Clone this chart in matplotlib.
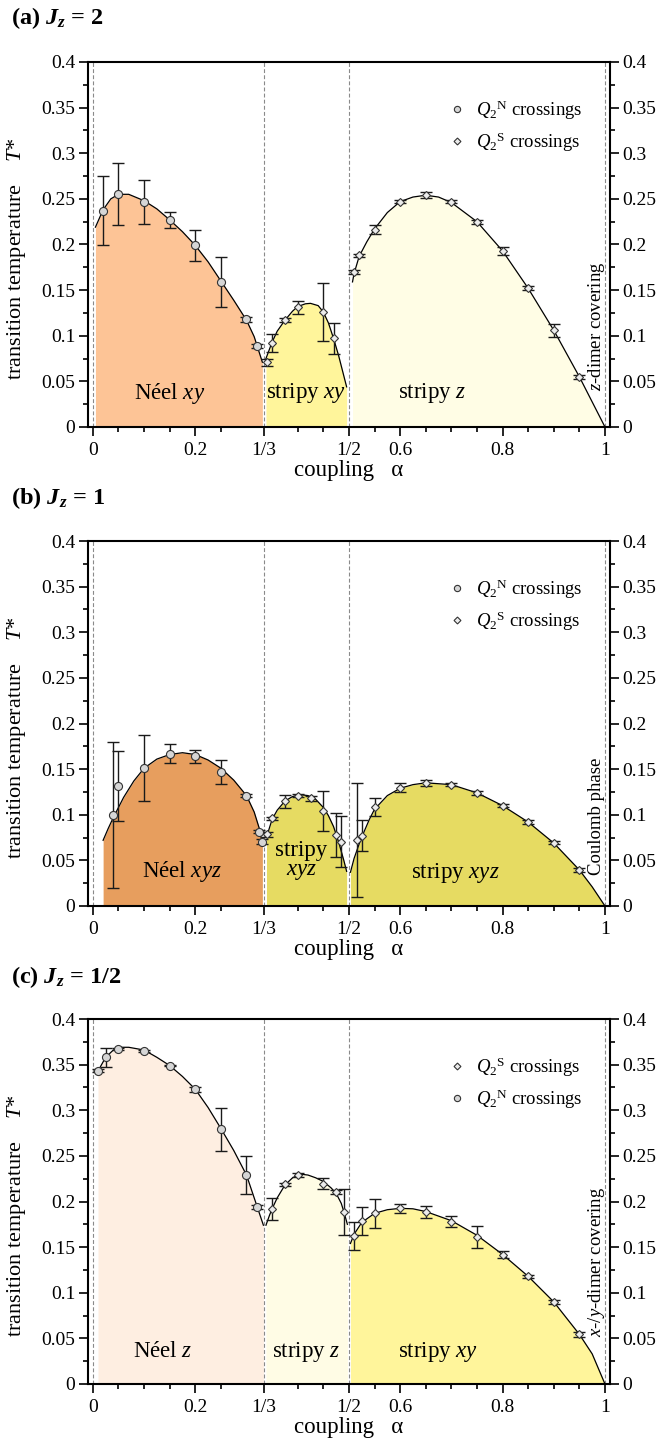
import matplotlib
matplotlib.use('Agg')
import matplotlib.pyplot as plt
from matplotlib.lines import Line2D

plt.rcParams['font.family'] = ['Liberation Serif', 'DejaVu Serif']
plt.rcParams['mathtext.fontset'] = 'custom'
plt.rcParams['mathtext.rm'] = 'Liberation Serif'
plt.rcParams['mathtext.it'] = 'Liberation Serif:italic'
plt.rcParams['mathtext.bf'] = 'Liberation Serif:bold'
plt.rcParams['mathtext.bfit'] = 'Liberation Serif:italic:bold'

# ---------------- panel (a) Jz = 2 ----------------
a_n_alpha = [0.02, 0.05, 0.10, 0.15, 0.20, 0.25, 0.30, 0.32]
a_n_T = [0.237, 0.255, 0.247, 0.227, 0.199, 0.159, 0.118, 0.089]
a_n_err = [0.038, 0.034, 0.024, 0.009, 0.017, 0.027, 0.003, 0.002]

a_s_alpha = [0.34, 0.35, 0.375, 0.40, 0.45, 0.47,
             0.51, 0.52, 0.55, 0.60, 0.65, 0.70, 0.75, 0.80, 0.85, 0.90, 0.95]
a_s_T = [0.071, 0.092, 0.117, 0.131, 0.126, 0.097,
         0.170, 0.188, 0.216, 0.247, 0.254, 0.247, 0.225, 0.193, 0.152, 0.106, 0.055]
a_s_err = [0.004, 0.010, 0.002, 0.007, 0.032, 0.017,
           0.002, 0.002, 0.005, 0.002, 0.003, 0.002, 0.002, 0.004, 0.002, 0.007, 0.002]

a_neel_x = [0.005, 0.02, 0.035, 0.05, 0.07, 0.10, 0.125, 0.15, 0.175, 0.20,
            0.225, 0.25, 0.275, 0.30, 0.315, 0.331]
a_neel_y = [0.219, 0.238, 0.250, 0.255, 0.255, 0.248, 0.239, 0.227, 0.214, 0.199,
            0.181, 0.160, 0.139, 0.117, 0.099, 0.071]
a_stxy_x = [0.338, 0.35, 0.36, 0.375, 0.39, 0.40, 0.415, 0.425, 0.44, 0.45,
            0.46, 0.47, 0.48, 0.4955]
a_stxy_y = [0.075, 0.093, 0.105, 0.117, 0.127, 0.132, 0.135, 0.1355, 0.133, 0.126,
            0.114, 0.097, 0.078, 0.044]
a_stz_x = [0.507, 0.51, 0.52, 0.535, 0.55, 0.575, 0.60, 0.625, 0.65, 0.675,
           0.70, 0.75, 0.80, 0.85, 0.90, 0.95, 1.0]
a_stz_y = [0.159, 0.168, 0.187, 0.203, 0.217, 0.235, 0.247, 0.252, 0.254, 0.252,
           0.246, 0.225, 0.193, 0.152, 0.106, 0.055, 0.0]

# ---------------- panel (b) Jz = 1 ----------------
b_n_alpha = [0.04, 0.05, 0.10, 0.15, 0.20, 0.25, 0.30, 0.325, 0.33]
b_n_T = [0.100, 0.1315, 0.1516, 0.167, 0.164, 0.147, 0.121, 0.0815, 0.0705]
b_n_err = [0.080, 0.038, 0.036, 0.0105, 0.0075, 0.013, 0.002, 0.002, 0.003]

b_s_alpha = [0.34, 0.35, 0.375, 0.40, 0.425, 0.45, 0.475, 0.485,
             0.515, 0.525, 0.55, 0.60, 0.65, 0.70, 0.75, 0.80, 0.85, 0.90, 0.95]
b_s_T = [0.0784, 0.096, 0.1147, 0.121, 0.118, 0.1045, 0.0778, 0.0705,
         0.0723, 0.077, 0.1085, 0.1297, 0.135, 0.133, 0.124, 0.110, 0.092, 0.0694, 0.0395]
b_s_err = [0.003, 0.002, 0.007, 0.002, 0.003, 0.022, 0.024, 0.028,
           0.062, 0.017, 0.010, 0.005, 0.003, 0.002, 0.002, 0.002, 0.002, 0.002, 0.002]

b_neel_x = [0.02, 0.03, 0.04, 0.06, 0.08, 0.10, 0.125, 0.15, 0.175, 0.20,
            0.225, 0.25, 0.275, 0.30, 0.315, 0.325, 0.331]
b_neel_y = [0.072, 0.085, 0.097, 0.119, 0.137, 0.151, 0.161, 0.166, 0.168, 0.166,
            0.160, 0.151, 0.138, 0.121, 0.103, 0.085, 0.068]
b_stxyz1_x = [0.339, 0.345, 0.35, 0.36, 0.375, 0.39, 0.405, 0.42, 0.435, 0.45,
              0.46, 0.47, 0.48, 0.49, 0.4955]
b_stxyz1_y = [0.075, 0.086, 0.095, 0.105, 0.115, 0.120, 0.122, 0.121, 0.117, 0.108,
              0.099, 0.087, 0.070, 0.050, 0.038]
b_stxyz2_x = [0.503, 0.51, 0.52, 0.53, 0.54, 0.55, 0.575, 0.60, 0.625, 0.65,
              0.70, 0.75, 0.80, 0.85, 0.90, 0.95, 0.975, 1.0]
b_stxyz2_y = [0.037, 0.052, 0.068, 0.082, 0.095, 0.106, 0.121, 0.129, 0.133, 0.135,
              0.133, 0.124, 0.110, 0.092, 0.069, 0.0395, 0.021, 0.0]

# ---------------- panel (c) Jz = 1/2 ----------------
c_n_alpha = [0.01, 0.025, 0.05, 0.10, 0.15, 0.20, 0.25, 0.30, 0.32]
c_n_T = [0.3434, 0.358, 0.3675, 0.365, 0.349, 0.323, 0.279, 0.229, 0.1943]
c_n_err = [0.002, 0.0105, 0.001, 0.001, 0.001, 0.003, 0.024, 0.021, 0.002]

c_s_alpha = [0.35, 0.375, 0.40, 0.45, 0.475, 0.49,
             0.51, 0.525, 0.55, 0.60, 0.65, 0.70, 0.75, 0.80, 0.85, 0.90, 0.95]
c_s_T = [0.1914, 0.2188, 0.229, 0.2195, 0.2104, 0.1885,
         0.1625, 0.1786, 0.187, 0.1925, 0.1885, 0.1779, 0.1607, 0.1417, 0.118, 0.0902, 0.0544]
c_s_err = [0.012, 0.002, 0.002, 0.006, 0.002, 0.025,
           0.0155, 0.0155, 0.0155, 0.0047, 0.0066, 0.006, 0.012, 0.004, 0.002, 0.002, 0.003]

c_neel_x = [0.01, 0.025, 0.04, 0.055, 0.07, 0.10, 0.125, 0.15, 0.175, 0.20,
            0.225, 0.25, 0.275, 0.30, 0.315, 0.333]
c_neel_y = [0.343, 0.358, 0.366, 0.369, 0.369, 0.366, 0.358, 0.349, 0.337, 0.323,
            0.303, 0.280, 0.256, 0.229, 0.204, 0.174]
c_stz_x = [0.338, 0.345, 0.35, 0.36, 0.375, 0.39, 0.405, 0.42, 0.435, 0.45,
           0.465, 0.475, 0.485, 0.49, 0.497]
c_stz_y = [0.174, 0.185, 0.192, 0.204, 0.218, 0.226, 0.230, 0.229, 0.226, 0.222,
           0.215, 0.209, 0.198, 0.189, 0.175]
c_stxy_x = [0.503, 0.51, 0.525, 0.55, 0.575, 0.60, 0.625, 0.65, 0.70, 0.75,
            0.80, 0.85, 0.90, 0.95, 0.975, 1.0]
c_stxy_y = [0.154, 0.164, 0.177, 0.187, 0.191, 0.1925, 0.192, 0.189, 0.179, 0.163,
            0.142, 0.118, 0.090, 0.0544, 0.033, 0.0]

x_major = [0, 0.2, 1 / 3, 0.5, 0.6, 0.8, 1]
x_major_labels = ['0', '0.2', '1/3', '1/2', '0.6', '0.8', '1']
x_minor = [0.05, 0.1, 0.15, 0.25, 0.4, 0.45, 0.55, 0.65, 0.7, 0.75, 0.85, 0.9, 0.95]
y_major = [0, 0.05, 0.1, 0.15, 0.2, 0.25, 0.3, 0.35, 0.4]
y_major_labels = ['0', '0.05', '0.1', '0.15', '0.2', '0.25', '0.3', '0.35', '0.4']
y_minor = [0.025, 0.075, 0.125, 0.175, 0.225, 0.275, 0.325, 0.375]
phase_lines = [0, 1 / 3, 0.5, 1]

LABEL_N = r'$Q_2{}^{\mathrm{N}}$ crossings'
LABEL_S = r'$Q_2{}^{\mathrm{S}}$ crossings'

W, H = 658, 1440
fig = plt.figure(figsize=(W / 100, H / 100), dpi=100)


def make_axes(top_px):
    left, right = 88, 610
    return fig.add_axes([left / W, 1 - (top_px + 365) / H, (right - left) / W, 365 / H])


def style_axes(ax):
    ax.set_xlim(-0.0095, 1.0098)
    ax.set_ylim(0, 0.4)
    ax.set_xticks(x_major)
    ax.set_xticklabels(x_major_labels)
    ax.set_xticks(x_minor, minor=True)
    ax.set_yticks(y_major)
    ax.set_yticklabels(y_major_labels)
    ax.set_yticks(y_minor, minor=True)
    ax.tick_params(axis='both', which='both', direction='out', labelsize=14, width=1.2)
    ax.tick_params(axis='both', which='major', length=6.5)
    ax.tick_params(axis='both', which='minor', length=3.5)
    ax.tick_params(axis='y', which='both', left=True, right=True, labelright=True)
    ax.tick_params(axis='y', which='major', pad=2.5)
    ax.tick_params(axis='x', which='major', pad=4)
    for sp in ax.spines.values():
        sp.set_linewidth(1.5)
    for v in phase_lines:
        ax.axvline(v, color='#8a8a8a', ls=(0, (3.5, 2)), lw=0.8, zorder=2)
    ax.set_xlabel('coupling   α', fontsize=16.5, labelpad=1)
    ax.set_ylabel('transition temperature    $T$*', fontsize=16)
    ax.yaxis.set_label_coords(-0.114, 0.46)


def draw_phase(ax, xs, ys, color):
    ax.fill_between(xs, 0, ys, color=color, lw=0, zorder=1)
    ax.plot(xs, ys, color='black', lw=0.9, zorder=2.5)


def draw_points(ax, xs, ys, errs, marker):
    ax.errorbar(xs, ys, yerr=errs, fmt='none', ecolor='#1a1a1a', elinewidth=1.0,
                capsize=4, capthick=1.0, zorder=3)
    if marker == 'o':
        ax.plot(xs, ys, 'o', ms=5.8, mfc='#d6d6d6', mec='#333333', mew=0.8, zorder=4)
    else:
        ax.plot(xs, ys, 'D', ms=3.9, mfc='#ececec', mec='#333333', mew=0.8, zorder=4)


def add_legend(ax, order):
    h_n = Line2D([], [], ls='none', marker='o', ms=4.5, mfc='#d6d6d6', mec='#333333', mew=0.8)
    h_s = Line2D([], [], ls='none', marker='D', ms=3.5, mfc='#ececec', mec='#333333', mew=0.8)
    if order == 'NS':
        handles, labels = [h_n, h_s], [LABEL_N, LABEL_S]
    else:
        handles, labels = [h_s, h_n], [LABEL_S, LABEL_N]
    ax.legend(handles, labels, loc='upper left', bbox_to_anchor=(0.69, 0.90),
              frameon=False, fontsize=13.5, handlelength=0.9, handletextpad=0.6,
              labelspacing=0.45, borderaxespad=0, borderpad=0)


def side_label(ax, text, y):
    ax.text(0.984, y, text, rotation=90, ha='center', va='center', fontsize=13.5, zorder=5)


# ---------------- (a) ----------------
ax_a = make_axes(62)
style_axes(ax_a)
draw_phase(ax_a, a_neel_x, a_neel_y, '#fdc496')
draw_phase(ax_a, a_stxy_x, a_stxy_y, '#fff59b')
draw_phase(ax_a, a_stz_x, a_stz_y, '#fffde5')
draw_points(ax_a, a_n_alpha, a_n_T, a_n_err, 'o')
draw_points(ax_a, a_s_alpha, a_s_T, a_s_err, 'D')
ax_a.text(0.150, 0.037, 'Néel $xy$', ha='center', va='center', fontsize=16.5, zorder=5)
ax_a.text(0.417, 0.037, 'stripy $xy$', ha='center', va='center', fontsize=16.5, zorder=5)
ax_a.text(0.662, 0.037, 'stripy $z$', ha='center', va='center', fontsize=16.5, zorder=5)
side_label(ax_a, '$z$-dimer covering', 0.11)
add_legend(ax_a, 'NS')
fig.text(11 / W, 1 - 18 / H, r'(a) $\mathbfit{J}_{\mathbfit{z}}$ = 2', fontsize=17.5,
         fontweight='bold', ha='left', va='center')

# ---------------- (b) ----------------
ax_b = make_axes(541)
style_axes(ax_b)
draw_phase(ax_b, b_neel_x, b_neel_y, '#e79e5e')
draw_phase(ax_b, b_stxyz1_x, b_stxyz1_y, '#e6db62')
draw_phase(ax_b, b_stxyz2_x, b_stxyz2_y, '#e6db62')
draw_points(ax_b, b_n_alpha, b_n_T, b_n_err, 'o')
draw_points(ax_b, b_s_alpha, b_s_T, b_s_err, 'D')
ax_b.text(0.173, 0.0376, 'Néel $xyz$', ha='center', va='center', fontsize=16.5, zorder=5)
ax_b.text(0.4076, 0.049, 'stripy\n$xyz$', ha='center', va='center', fontsize=16.5,
          linespacing=0.9, zorder=5)
ax_b.text(0.707, 0.036, 'stripy $xyz$', ha='center', va='center', fontsize=16.5, zorder=5)
side_label(ax_b, 'Coulomb phase', 0.098)
add_legend(ax_b, 'NS')
fig.text(11 / W, 1 - 498 / H, r'(b) $\mathbfit{J}_{\mathbfit{z}}$ = 1', fontsize=17.5,
         fontweight='bold', ha='left', va='center')

# ---------------- (c) ----------------
ax_c = make_axes(1019)
style_axes(ax_c)
draw_phase(ax_c, c_neel_x, c_neel_y, '#feeee1')
draw_phase(ax_c, c_stz_x, c_stz_y, '#fffce5')
draw_phase(ax_c, c_stxy_x, c_stxy_y, '#fff59b')
draw_points(ax_c, c_n_alpha, c_n_T, c_n_err, 'o')
draw_points(ax_c, c_s_alpha, c_s_T, c_s_err, 'D')
ax_c.text(0.137, 0.0354, 'Néel $z$', ha='center', va='center', fontsize=16.5, zorder=5)
ax_c.text(0.417, 0.0354, 'stripy $z$', ha='center', va='center', fontsize=16.5, zorder=5)
ax_c.text(0.674, 0.0354, 'stripy $xy$', ha='center', va='center', fontsize=16.5, zorder=5)
side_label(ax_c, '$x$-/$y$-dimer covering', 0.134)
add_legend(ax_c, 'SN')
fig.text(11 / W, 1 - 977 / H, r'(c) $\mathbfit{J}_{\mathbfit{z}}$ = 1/2', fontsize=17.5,
         fontweight='bold', ha='left', va='center')

fig.savefig('out.png', dpi=100)
